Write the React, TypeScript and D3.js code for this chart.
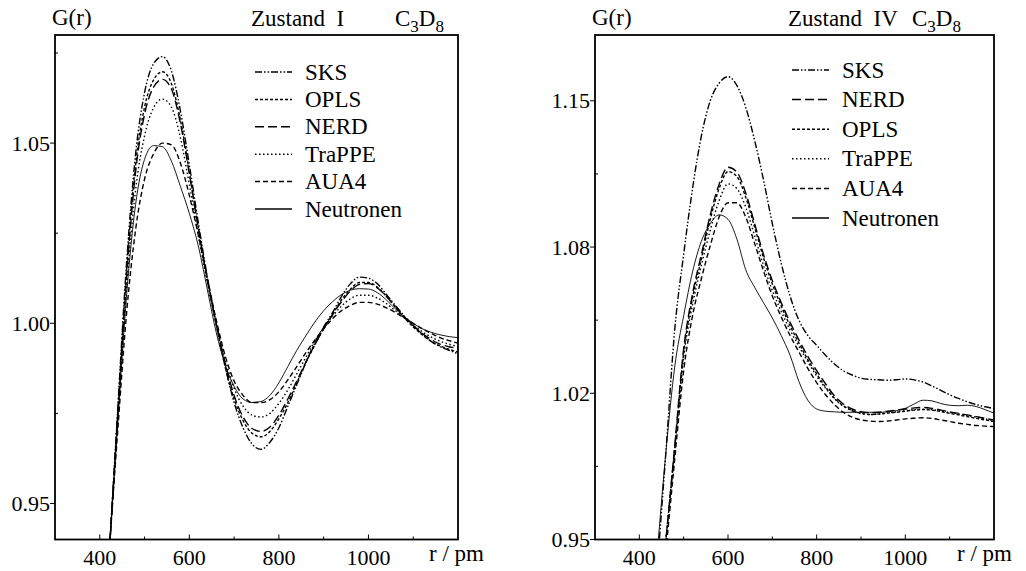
import React from "react";
import * as d3 from "d3";

// ---------- data: Zustand I ----------
const rI = [423, 440, 460, 480, 500, 520, 540, 560, 580, 600, 620, 640, 660, 680, 700, 720, 740, 760, 780, 800, 820, 840, 860, 880, 900, 920, 940, 960, 980, 1000, 1020, 1040, 1060, 1080, 1100, 1120, 1140, 1160, 1180, 1200];
const sksI = [0.940, 0.976, 1.017, 1.047, 1.064, 1.072, 1.074, 1.070, 1.059, 1.044, 1.028, 1.013, 1.000, 0.988, 0.978, 0.971, 0.9665, 0.965, 0.967, 0.971, 0.977, 0.983, 0.989, 0.9945, 0.999, 1.003, 1.0075, 1.011, 1.0128, 1.0125, 1.011, 1.008, 1.005, 1.002, 0.9995, 0.997, 0.995, 0.9935, 0.9925, 0.9915];
const oplsI = [0.940, 0.975, 1.015, 1.044, 1.060, 1.0675, 1.0698, 1.0665, 1.0565, 1.042, 1.0265, 1.012, 0.9995, 0.988, 0.979, 0.973, 0.9695, 0.9685, 0.970, 0.9735, 0.978, 0.9835, 0.989, 0.994, 0.9985, 1.0025, 1.0065, 1.0095, 1.0113, 1.0113, 1.010, 1.0075, 1.0045, 1.0015, 0.999, 0.9968, 0.995, 0.9937, 0.9928, 0.992];
const nerdI = [0.940, 0.974, 1.013, 1.042, 1.058, 1.0655, 1.0677, 1.065, 1.0555, 1.0415, 1.0265, 1.0125, 1.000, 0.989, 0.980, 0.974, 0.9708, 0.970, 0.9712, 0.9745, 0.979, 0.984, 0.9892, 0.994, 0.9985, 1.0025, 1.006, 1.009, 1.0108, 1.011, 1.0098, 1.0075, 1.0047, 1.0018, 0.9993, 0.9972, 0.9955, 0.9942, 0.9935, 0.993];
const trappeI = [0.940, 0.973, 1.010, 1.037, 1.052, 1.0598, 1.0622, 1.060, 1.0515, 1.0385, 1.0245, 1.0115, 1.000, 0.990, 0.982, 0.977, 0.9745, 0.974, 0.975, 0.9778, 0.9815, 0.986, 0.9905, 0.995, 0.9988, 1.002, 1.0048, 1.0068, 1.0078, 1.0078, 1.007, 1.0055, 1.0035, 1.0015, 0.9995, 0.9977, 0.9962, 0.995, 0.9942, 0.9935];
const aua4I = [0.940, 0.970, 1.003, 1.026, 1.040, 1.047, 1.050, 1.0495, 1.0445, 1.0355, 1.0245, 1.0125, 1.001, 0.991, 0.984, 0.980, 0.978, 0.978, 0.9788, 0.981, 0.9843, 0.988, 0.9918, 0.9953, 0.9985, 1.0013, 1.0035, 1.005, 1.0058, 1.0058, 1.0053, 1.0043, 1.003, 1.0015, 1.000, 0.9985, 0.9972, 0.996, 0.9952, 0.9945];
const neutronenI = [0.940, 0.972, 1.008, 1.033, 1.0455, 1.0493, 1.049, 1.045, 1.038, 1.0305, 1.0215, 1.0095, 0.9975, 0.9885, 0.9825, 0.979, 0.978, 0.9783, 0.980, 0.9835, 0.988, 0.9925, 0.9965, 1.0003, 1.0035, 1.006, 1.008, 1.0092, 1.0096, 1.0095, 1.0085, 1.0065, 1.004, 1.0018, 1.000, 0.9985, 0.9975, 0.9968, 0.9963, 0.996];

// ---------- data: Zustand IV ----------
const rIV = [440, 460, 480, 500, 520, 540, 560, 580, 600, 620, 640, 660, 680, 700, 720, 740, 760, 780, 800, 820, 840, 860, 880, 900, 920, 940, 960, 980, 1000, 1020, 1040, 1060, 1080, 1100, 1120, 1140, 1160, 1180, 1200];
const sksIV = [0.936, 0.990, 1.046, 1.080, 1.110, 1.134, 1.150, 1.158, 1.161, 1.157, 1.147, 1.132, 1.114, 1.094, 1.076, 1.061, 1.050, 1.043, 1.0385, 1.034, 1.030, 1.027, 1.025, 1.0235, 1.023, 1.0228, 1.0226, 1.0228, 1.0232, 1.0228, 1.0218, 1.020, 1.018, 1.016, 1.0143, 1.0128, 1.0115, 1.0105, 1.0097];
const nerdIV = [0.910, 0.950, 0.993, 1.037, 1.062, 1.080, 1.098, 1.112, 1.1197, 1.1175, 1.108, 1.094, 1.080, 1.068, 1.058, 1.049, 1.041, 1.0335, 1.027, 1.021, 1.0155, 1.0118, 1.0095, 1.0083, 1.0078, 1.008, 1.0085, 1.009, 1.0095, 1.010, 1.0102, 1.0098, 1.009, 1.0082, 1.0075, 1.0068, 1.006, 1.0052, 1.0045];
const oplsIV = [0.910, 0.950, 0.992, 1.035, 1.060, 1.078, 1.096, 1.110, 1.1177, 1.1155, 1.106, 1.0925, 1.0785, 1.0665, 1.0565, 1.0475, 1.0395, 1.032, 1.0255, 1.0195, 1.0145, 1.011, 1.0088, 1.0075, 1.007, 1.0072, 1.0076, 1.008, 1.0085, 1.009, 1.0092, 1.009, 1.0083, 1.0075, 1.0068, 1.006, 1.0052, 1.0045, 1.0038];
const trappeIV = [0.910, 0.950, 0.991, 1.033, 1.057, 1.075, 1.091, 1.1045, 1.1121, 1.110, 1.1015, 1.0885, 1.075, 1.0635, 1.054, 1.0455, 1.038, 1.031, 1.0245, 1.019, 1.0142, 1.0108, 1.0087, 1.0075, 1.007, 1.0072, 1.0077, 1.0082, 1.0087, 1.0092, 1.0094, 1.0092, 1.0086, 1.0079, 1.0072, 1.0065, 1.0058, 1.005, 1.0042];
const aua4IV = [0.905, 0.945, 0.987, 1.027, 1.052, 1.069, 1.084, 1.097, 1.1035, 1.1035, 1.097, 1.085, 1.0725, 1.061, 1.0515, 1.043, 1.0355, 1.028, 1.0215, 1.016, 1.0115, 1.008, 1.0058, 1.0045, 1.004, 1.0038, 1.004, 1.0045, 1.005, 1.0053, 1.0055, 1.0052, 1.0045, 1.0038, 1.003, 1.0025, 1.002, 1.0017, 1.0015];
const neutronenIV = [0.943, 0.990, 1.029, 1.052, 1.072, 1.086, 1.094, 1.098, 1.096, 1.087, 1.073, 1.065, 1.058, 1.051, 1.043, 1.034, 1.022, 1.0135, 1.0095, 1.0085, 1.0082, 1.008, 1.008, 1.008, 1.008, 1.008, 1.0082, 1.0088, 1.0098, 1.0118, 1.0135, 1.0132, 1.012, 1.0112, 1.011, 1.0112, 1.0106, 1.0092, 1.0076];

// ---------- axes ----------
const xTicks = [400, 600, 800, 1000];
const xMinorTicks = [500, 700, 900, 1100];
const yTicksI = [0.95, 1.0, 1.05];
const yTickLabelsI = ["0.95", "1.00", "1.05"];
const yMinorI = [0.975, 1.025, 1.075];
const yTicksIV = [0.95, 1.0166667, 1.0833333, 1.15];
const yTickLabelsIV = ["0.95", "1.02", "1.08", "1.15"];
const yMinorIV = [0.9833333, 1.05, 1.1166667];

const DASH: Record<string, string | undefined> = {
  SKS: "7,2,1.5,2,1.5,2",
  OPLS: "3,2",
  NERD: "9,4",
  TraPPE: "1.5,2.5",
  AUA4: "5,3",
  Neutronen: undefined,
};

const FONT = "'Liberation Serif', Tinos, 'Times New Roman', Times, 'DejaVu Serif', serif";

type Series = { name: string; r: number[]; g: number[] };

type PanelProps = {
  id: string;
  x0: number;
  x1: number;
  y0: number;
  y1: number;
  yDomain: [number, number];
  yTicks: number[];
  yTickLabels: string[];
  yMinor: number[];
  series: Series[];
  legendOrder: string[];
  legendX: number;
  legendY: number;
  legendStep: number;
  title: string;
  titleX: number;
  formulaX: number;
  gX: number;
  rpmX: number;
};

function Panel(p: PanelProps) {
  const x = d3.scaleLinear().domain([300, 1200]).range([p.x0, p.x1]);
  const y = d3.scaleLinear().domain(p.yDomain).range([p.y1, p.y0]);
  const clipId = "clip-" + p.id;
  const mk = (s: Series) =>
    d3
      .line<number>()
      .x((_, i) => x(s.r[i]))
      .y((v) => y(v))
      .curve(d3.curveMonotoneX)(s.g) || "";

  return (
    <g fontFamily={FONT} fill="#000">
      <defs>
        <clipPath id={clipId}>
          <rect x={p.x0} y={p.y0} width={p.x1 - p.x0} height={p.y1 - p.y0} />
        </clipPath>
      </defs>
      <g clipPath={`url(#${clipId})`}>
        {p.series.map((s) => (
          <path
            key={s.name}
            d={mk(s)}
            fill="none"
            stroke="#000"
            strokeWidth={s.name === "Neutronen" ? 0.9 : 1.4}
            strokeDasharray={DASH[s.name]}
          />
        ))}
      </g>
      <rect x={p.x0} y={p.y0} width={p.x1 - p.x0} height={p.y1 - p.y0} fill="none" stroke="#000" strokeWidth={1.8} />
      {xTicks.map((t) => (
        <g key={"xt" + t}>
          <line x1={x(t)} x2={x(t)} y1={p.y1} y2={p.y1 - 5} stroke="#000" strokeWidth={1} />
          <text x={x(t)} y={p.y1 + 25} fontSize={22} textAnchor="middle">
            {t}
          </text>
        </g>
      ))}
      {xMinorTicks.map((t) => (
        <line key={"xm" + t} x1={x(t)} x2={x(t)} y1={p.y1} y2={p.y1 - 3} stroke="#000" strokeWidth={1} />
      ))}
      <text x={p.rpmX} y={p.y1 + 21} fontSize={23}>
        r / pm
      </text>
      {p.yTicks.map((t, i) => (
        <g key={"yt" + t}>
          <line x1={p.x0} x2={p.x0 - 5} y1={y(t)} y2={y(t)} stroke="#000" strokeWidth={1} />
          <text x={p.x0 - 5} y={y(t) + 7.5} fontSize={22} textAnchor="end">
            {p.yTickLabels[i]}
          </text>
        </g>
      ))}
      {p.yMinor.map((t) => (
        <line key={"ym" + t} x1={p.x0} x2={p.x0 + 3} y1={y(t)} y2={y(t)} stroke="#000" strokeWidth={1} />
      ))}
      <text x={p.gX} y={25} fontSize={23}>
        G(r)
      </text>
      <text x={p.titleX} y={26} fontSize={23} style={{ whiteSpace: "pre" }}>
        {p.title}
      </text>
      <text x={p.formulaX} y={26} fontSize={23}>
        <tspan>C</tspan>
        <tspan dy={6} fontSize={17}>3</tspan>
        <tspan dy={-6}>D</tspan>
        <tspan dy={6} fontSize={17}>8</tspan>
      </text>
      {p.legendOrder.map((name, i) => {
        const ly = p.legendY + i * p.legendStep;
        return (
          <g key={"lg" + name}>
            <line
              x1={p.legendX}
              x2={p.legendX + 37}
              y1={ly}
              y2={ly}
              stroke="#000"
              strokeWidth={1.5}
              strokeDasharray={DASH[name]}
            />
            <text x={p.legendX + 50} y={ly + 7.5} fontSize={23}>
              {name}
            </text>
          </g>
        );
      })}
    </g>
  );
}

export default function App() {
  const seriesI: Series[] = [
    { name: "SKS", r: rI, g: sksI },
    { name: "OPLS", r: rI, g: oplsI },
    { name: "NERD", r: rI, g: nerdI },
    { name: "TraPPE", r: rI, g: trappeI },
    { name: "AUA4", r: rI, g: aua4I },
    { name: "Neutronen", r: rI, g: neutronenI },
  ];
  const seriesIV: Series[] = [
    { name: "SKS", r: rIV, g: sksIV },
    { name: "NERD", r: rIV, g: nerdIV },
    { name: "OPLS", r: rIV, g: oplsIV },
    { name: "TraPPE", r: rIV, g: trappeIV },
    { name: "AUA4", r: rIV, g: aua4IV },
    { name: "Neutronen", r: rIV, g: neutronenIV },
  ];
  return (
    <svg
      width={1026}
      height={571}
      viewBox="0 0 1026 571"
      style={{ position: "absolute", left: 0, top: 0, background: "#fff" }}
    >
      <rect x={0} y={0} width={1026} height={571} fill="#fff" />
      <Panel
        id="I"
        x0={55}
        x1={458}
        y0={35}
        y1={539.5}
        yDomain={[0.94, 1.08]}
        yTicks={yTicksI}
        yTickLabels={yTickLabelsI}
        yMinor={yMinorI}
        series={seriesI}
        legendOrder={["SKS", "OPLS", "NERD", "TraPPE", "AUA4", "Neutronen"]}
        legendX={255}
        legendY={72}
        legendStep={27.4}
        title={"Zustand  I"}
        titleX={251}
        formulaX={395}
        gX={52}
        rpmX={429}
      />
      <Panel
        id="IV"
        x0={595}
        x1={994}
        y0={35}
        y1={539.5}
        yDomain={[0.95, 1.18]}
        yTicks={yTicksIV}
        yTickLabels={yTickLabelsIV}
        yMinor={yMinorIV}
        series={seriesIV}
        legendOrder={["SKS", "NERD", "OPLS", "TraPPE", "AUA4", "Neutronen"]}
        legendX={792}
        legendY={70}
        legendStep={29.6}
        title={"Zustand  IV"}
        titleX={788}
        formulaX={912}
        gX={592}
        rpmX={957}
      />
    </svg>
  );
}
